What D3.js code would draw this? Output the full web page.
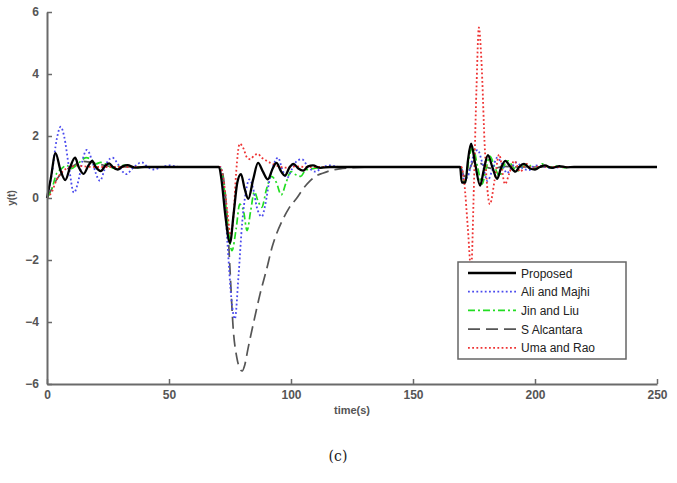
<!DOCTYPE html>
<html><head><meta charset="utf-8">
<script src="https://cdn.jsdelivr.net/npm/d3@7"></script>
<style>body{margin:0;background:#fff;}svg{display:block;}</style>
</head><body>
<svg id="c" width="677" height="483"></svg>
<script>
const xTicks = [0, 50, 100, 150, 200, 250];
const yTicks = [-6, -4, -2, 0, 2, 4, 6];
const seriesNames = ["Proposed", "Ali and Majhi", "Jin and Liu", "S Alcantara", "Uma and Rao"];

const proposed = [
 [0,0],[1.5,0.6],[3.5,1.45],[5.5,0.9],[7.5,0.58],[9.5,1.0],[11.5,1.3],[13,1.0],[15,0.78],[17,1.05],[18.5,1.2],[20,1.0],[22,0.87],[24,1.05],[25.5,1.12],[27,1.0],[29,0.92],[31,1.02],[33,1.06],[36,0.98],[40,1.0],[70.5,1.0],
 [71.5,0.6],[73,-0.5],[75,-1.45],[76.5,-0.5],[78,0.5],[79.5,0.77],[81,0.3],[82.5,-0.03],[84.5,0.6],[86.5,1.13],[88.5,0.85],[90.5,0.6],[92.5,0.95],[94,1.13],[96,0.85],[97.5,0.72],[99.5,1.0],[101,1.1],[103,0.95],[105,0.88],[107,1.02],[109,1.05],[112,0.97],[116,1.0],[169.3,1.0],
 [170,0.5],[171.5,0.5],[172.5,1.2],[173.8,1.75],[175.5,1.1],[177.5,0.4],[179,0.9],[180.7,1.38],[182.5,1.0],[184.5,0.62],[186,0.95],[187.8,1.2],[190,1.0],[192,0.85],[193.5,1.0],[195.5,1.1],[198,0.95],[200,0.92],[202,1.0],[204,1.05],[207,0.97],[210,1.03],[213,0.99],[216,1.0],[250,1.0]
];
const aliMajhi = [
 [0,0],[2,0.8],[4,1.9],[5.6,2.3],[7,2.0],[9,1.0],[11,0.17],[13,0.6],[14.5,1.2],[16.3,1.55],[18.5,1.2],[20,0.8],[21.7,0.55],[23.5,0.9],[25,1.2],[26.8,1.3],[29,1.1],[31,0.85],[32.6,0.77],[35,0.95],[38.8,1.15],[41,1.02],[43.5,0.92],[47,1.0],[50,1.05],[55,1.0],[71,1.0],
 [72.5,0.3],[74,-1.5],[75.5,-3.2],[77,-3.9],[78.5,-2.5],[80,-0.8],[81.5,0.2],[83,0.6],[84.5,0.3],[86,-0.3],[88,-0.6],[89.5,-0.2],[91,0.5],[93,1.1],[94.7,1.3],[96.5,0.9],[98.4,0.65],[100.5,0.95],[102.5,1.2],[104.5,1.25],[107,1.0],[110,0.85],[113,1.0],[116,1.05],[120,1.0],[169.5,1.0],
 [171,0.6],[172.5,0.7],[174.5,1.3],[176.5,1.55],[178.5,1.1],[180.5,0.55],[182.5,0.9],[184.5,1.3],[186.5,1.1],[188.5,0.8],[190.5,1.0],[192.5,1.15],[195,0.95],[197.5,0.9],[200,1.05],[203,1.02],[207,0.97],[212,1.0],[250,1.0]
];
const jinLiu = [
 [0,0],[2,0.3],[4,0.8],[6,0.95],[8,1.05],[10,0.95],[12,1.05],[14,1.2],[16,1.3],[18,1.25],[20,1.1],[22,1.15],[24,1.1],[26,1.0],[28,0.95],[30,1.05],[33,1.05],[36,0.98],[40,1.0],[71,1.0],
 [72.5,0.4],[74,-0.8],[75.8,-1.7],[77.5,-1.0],[79,-0.2],[80.5,-0.4],[82,-1.05],[83.5,-0.4],[85,0.2],[86.5,-0.1],[88,-0.3],[90,0.3],[92,0.7],[94,0.5],[96,0.1],[98,0.5],[100,0.85],[102,0.75],[104,0.7],[106,0.9],[109,0.95],[112,0.98],[116,1.0],[169.5,1.0],
 [170,0.55],[171.5,0.55],[173,1.3],[174.5,1.65],[176.5,1.0],[178.3,0.45],[180,0.95],[181.5,1.35],[183.5,1.0],[185.5,0.7],[187,1.0],[189,1.2],[191,1.0],[193,0.88],[195,1.0],[197,1.1],[199.5,0.95],[201,0.95],[203,1.1],[206,0.98],[209,1.03],[212,0.98],[216,1.0],[250,1.0]
];
const sAlcantara = [
 [0,0],[2,0.3],[4,0.6],[6,0.8],[8,0.92],[10,1.0],[12,1.1],[15,1.18],[18,1.15],[22,1.08],[26,1.02],[30,1.0],[71,1.0],
 [72,0.8],[73,0.2],[74,-0.8],[75,-2.3],[76.3,-4.2],[77.8,-5.15],[79,-5.5],[80,-5.58],[81,-5.4],[82.4,-4.85],[85,-3.9],[87.3,-3.1],[90,-2.3],[92.2,-1.6],[96.3,-0.75],[99,-0.35],[102.4,0.0],[105,0.3],[107.8,0.55],[110,0.7],[113,0.8],[116,0.88],[120,0.94],[125,0.98],[132,1.0],[169.5,1.0],
 [171,0.7],[173,0.9],[175,1.2],[177,1.15],[180,1.0],[183,0.95],[187,1.02],[192,1.0],[250,1.0]
];
const umaRao = [
 [0,0],[2,0.2],[4,0.6],[6,0.82],[8,0.95],[10,1.0],[12,1.05],[15,1.02],[20,1.0],[25,1.0],[71,1.0],
 [72.5,0.5],[74,-0.5],[75.3,-1.2],[76.5,-0.5],[77.5,0.8],[79,1.75],[80.5,1.6],[82,1.3],[83.3,1.25],[85,1.38],[86.5,1.42],[88,1.3],[90,1.2],[92.5,1.1],[95,1.02],[98,0.98],[102,1.02],[106,1.0],[169.8,1.0],
 [171,0.5],[172.5,-1.0],[173.8,-2.3],[175,0.5],[176,3.5],[177,5.5],[178,4.5],[179.5,1.5],[181.5,-0.2],[183.5,0.6],[185.3,1.4],[187.7,0.45],[189.5,0.8],[191.5,1.2],[194,0.85],[196.5,1.1],[199,0.95],[202,1.03],[206,1.0],[250,1.0]
];

const svg = d3.select("#c");
const mLeft = 47, mRight = 657, mTop = 12, mBottom = 384;
const x = d3.scaleLinear().domain([0, 250]).range([mLeft, mRight]);
const y = d3.scaleLinear().domain([-6, 6]).range([mBottom, mTop]);

const axisColor = "#6a6a6a";
const fontAxis = "'Liberation Sans', Arial, sans-serif";

const series = [
 {name: seriesNames[3], data: sAlcantara, color: "#555555", w: 1.7, dash: "12,6"},
 {name: seriesNames[2], data: jinLiu, color: "#22dd22", w: 1.7, dash: "7,3,2,3"},
 {name: seriesNames[1], data: aliMajhi, color: "#4a4aee", w: 1.8, dash: "1.8,2.4"},
 {name: seriesNames[4], data: umaRao, color: "#ee3333", w: 1.8, dash: "1.8,2.4"},
 {name: seriesNames[0], data: proposed, color: "#000000", w: 2.3, dash: null}
];

const line = d3.line().x(d => x(d[0])).y(d => y(d[1])).curve(d3.curveMonotoneX);

series.forEach(s => {
  svg.append("path").datum(s.data)
    .attr("d", line).attr("fill", "none")
    .attr("stroke", s.color).attr("stroke-width", s.w)
    .attr("stroke-dasharray", s.dash)
    .attr("stroke-linejoin", "round");
});

const gx = svg.append("g").attr("transform", `translate(0,${mBottom})`)
  .call(d3.axisBottom(x).tickValues(xTicks).tickSizeInner(-5).tickSizeOuter(0).tickPadding(6));
const gy = svg.append("g").attr("transform", `translate(${mLeft},0)`)
  .call(d3.axisLeft(y).tickValues(yTicks).tickSizeInner(-5).tickSizeOuter(0).tickPadding(8));
[gx, gy].forEach(g => {
  g.select(".domain").attr("stroke", axisColor).attr("stroke-width", 2);
  g.selectAll(".tick line").attr("stroke", axisColor).attr("stroke-width", 1.5);
  g.selectAll(".tick text").attr("fill", "#555").style("font-family", fontAxis)
    .style("font-size", "12px").style("font-weight", "bold");
});

svg.append("text").attr("x", (mLeft + mRight) / 2).attr("y", 414).attr("text-anchor", "middle")
  .attr("fill", "#555").style("font-family", fontAxis).style("font-size", "11px").style("font-weight", "bold")
  .text("time(s)");
svg.append("text").attr("transform", `translate(15,${y(0)}) rotate(-90)`).attr("text-anchor", "middle")
  .attr("fill", "#555").style("font-family", fontAxis).style("font-size", "10px").style("font-weight", "bold")
  .text("y(t)");

svg.append("text").attr("x", 338).attr("y", 461).attr("text-anchor", "middle")
  .attr("fill", "#222").style("font-family", "'DejaVu Serif', 'Liberation Serif', serif").style("font-size", "14px")
  .text("(c)");

// legend
const lg = svg.append("g");
lg.append("rect").attr("x", 458).attr("y", 262).attr("width", 168).attr("height", 97)
  .attr("fill", "#fff").attr("stroke", "#666").attr("stroke-width", 1.5);
const legendOrder = [4, 2, 1, 0, 3];
legendOrder.forEach((si, i) => {
  const s = series[si];
  const yy = 273 + i * 18.7;
  lg.append("line").attr("x1", 468).attr("x2", 516).attr("y1", yy).attr("y2", yy)
    .attr("stroke", s.color).attr("stroke-width", s.w).attr("stroke-dasharray", s.dash);
  lg.append("text").attr("x", 521).attr("y", yy + 4.5).attr("fill", "#222")
    .style("font-family", fontAxis).style("font-size", "12px").text(s.name);
});
</script>
</body></html>
